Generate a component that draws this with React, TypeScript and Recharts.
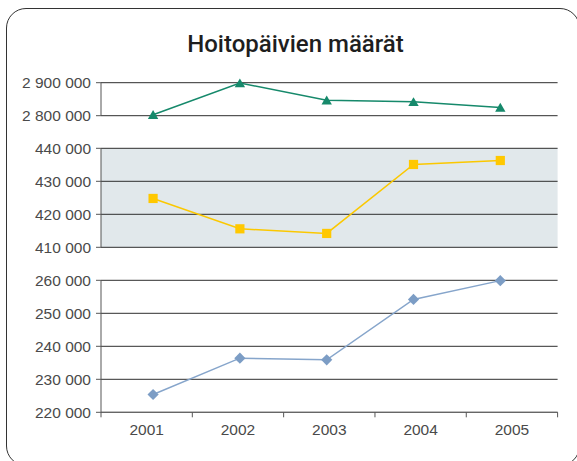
import { LineChart, Line, XAxis, YAxis, CartesianGrid } from 'recharts';

// values
const years = [2001, 2002, 2003, 2004, 2005];
const upperDays = [2803000, 2899000, 2847000, 2842000, 2825000];
const middleDays = [424800, 415600, 414200, 435100, 436300];
const lowerDays = [225400, 236400, 235900, 254200, 259900];

const upperTicks = [2800000, 2900000];
const middleTicks = [410000, 420000, 430000, 440000];
const lowerTicks = [220000, 230000, 240000, 250000, 260000];

const TITLE = 'Hoitopäivien määrät';
const FONT = '"Liberation Sans", Arial, sans-serif';
const LABEL = '#4a4a4a';
const GRID = '#2e2e2e';

const fmt = (v: number) => String(v).replace(/\B(?=(\d{3})+(?!\d))/g, ' ');

// boundaries between years get a tick mark, year itself gets its label
const yearTicks = years.flatMap((y) => [y - 0.5, y]).concat(years[years.length - 1] + 0.5);

type DotProps = { cx?: number; cy?: number; index?: number };

const triangle = (color: string) => (p: DotProps) => {
  const { cx = 0, cy = 0 } = p;
  return (
    <path
      key={`t${p.index}`}
      d={`M${cx},${cy - 4.6} L${cx + 5.2},${cy + 4.2} L${cx - 5.2},${cy + 4.2} Z`}
      fill={color}
    />
  );
};

const square = (color: string) => (p: DotProps) => {
  const { cx = 0, cy = 0 } = p;
  return <rect key={`s${p.index}`} x={cx - 4.6} y={cy - 4.6} width={9.2} height={9.2} fill={color} />;
};

const diamond = (color: string) => (p: DotProps) => {
  const { cx = 0, cy = 0 } = p;
  return (
    <path
      key={`d${p.index}`}
      d={`M${cx},${cy - 5.6} L${cx + 5.6},${cy} L${cx},${cy + 5.6} L${cx - 5.6},${cy} Z`}
      fill={color}
    />
  );
};

type YearTickProps = { x?: number; y?: number; payload?: { value: number } };

function YearTick({ x = 0, y = 0, payload }: YearTickProps) {
  const v = payload ? payload.value : 0;
  if (Number.isInteger(v)) {
    return (
      <text x={x} y={y + 23} textAnchor="middle" fill={LABEL} fontSize={15.5}>
        {v}
      </text>
    );
  }
  return <line x1={x} x2={x} y1={y} y2={y + 5} stroke="#555" strokeWidth={1} />;
}

type PanelProps = {
  top: number;
  height: number;
  marginTop: number;
  marginBottom: number;
  values: number[];
  ticks: number[];
  color: string;
  dot: (p: DotProps) => JSX.Element;
  background?: string;
  showYears?: boolean;
};

function Panel({
  top,
  height,
  marginTop,
  marginBottom,
  values,
  ticks,
  color,
  dot,
  background,
  showYears,
}: PanelProps) {
  const data = years.map((year, i) => ({ year, v: values[i] }));
  const domain: [number, number] = [ticks[0], ticks[ticks.length - 1]];
  return (
    <div style={{ position: 'absolute', left: 0, top }}>
      <LineChart
        width={577}
        height={height}
        data={data}
        margin={{ top: marginTop, right: 19.4, bottom: marginBottom, left: 0 }}
      >
        <CartesianGrid
          vertical={false}
          stroke={GRID}
          strokeWidth={1}
          fill={background ?? 'none'}
          fillOpacity={1}
        />
        <XAxis xAxisId="pts" dataKey="year" type="number" domain={[2000.4, 2005.66]} hide />
        {showYears && (
          <XAxis
            xAxisId="lab"
            dataKey="year"
            type="number"
            domain={[2000.5, 2005.5]}
            ticks={yearTicks}
            interval={0}
            tickSize={0}
            tickMargin={0}
            tickLine={false}
            axisLine={{ stroke: '#6a6a6a' }}
            tick={<YearTick />}
            height={40}
          />
        )}
        <YAxis
          domain={domain}
          ticks={ticks}
          width={101}
          interval={0}
          tickFormatter={fmt}
          tickSize={5}
          tickMargin={5}
          tick={{ fill: LABEL, fontSize: 15.5 }}
          axisLine={{ stroke: '#555' }}
          tickLine={{ stroke: '#555' }}
        />
        <YAxis
          yAxisId="r"
          orientation="right"
          domain={domain}
          width={0}
          tick={false}
          tickLine={false}
          axisLine={{ stroke: GRID }}
        />
        <Line
          xAxisId="pts"
          dataKey="v"
          stroke={color}
          strokeWidth={1.5}
          dot={dot}
          activeDot={false}
          isAnimationActive={false}
        />
      </LineChart>
    </div>
  );
}

export default function App() {
  return (
    <div
      style={{
        position: 'absolute',
        left: 0,
        top: 0,
        width: 577,
        height: 461,
        overflow: 'hidden',
        background: '#fff',
        fontFamily: FONT,
      }}
    >
      <div
        style={{
          position: 'absolute',
          left: 6,
          top: 8,
          width: 574,
          height: 458,
          boxSizing: 'border-box',
          border: '1.5px solid #333',
          borderRadius: 20,
        }}
      />
      <div
        style={{
          position: 'absolute',
          left: 7,
          top: 32,
          width: 577,
          textAlign: 'center',
          fontFamily: 'Roboto, "Liberation Sans", sans-serif',
          fontWeight: 500,
          fontSize: 24,
          lineHeight: '24px',
          color: '#1e1e1e',
        }}
      >
        {TITLE}
      </div>
      <Panel
        top={62}
        height={70}
        marginTop={20.7}
        marginBottom={16.3}
        values={upperDays}
        ticks={upperTicks}
        color="#16896b"
        dot={triangle('#16896b')}
      />
      <Panel
        top={130}
        height={130}
        marginTop={18.3}
        marginBottom={12.7}
        values={middleDays}
        ticks={middleTicks}
        color="#fbc800"
        dot={square('#ffc800')}
        background="#e1e8eb"
      />
      <Panel
        top={262}
        height={190.3}
        marginTop={18.3}
        marginBottom={0}
        values={lowerDays}
        ticks={lowerTicks}
        color="#86a5cb"
        dot={diamond('#7c9dc5')}
        showYears
      />
    </div>
  );
}
